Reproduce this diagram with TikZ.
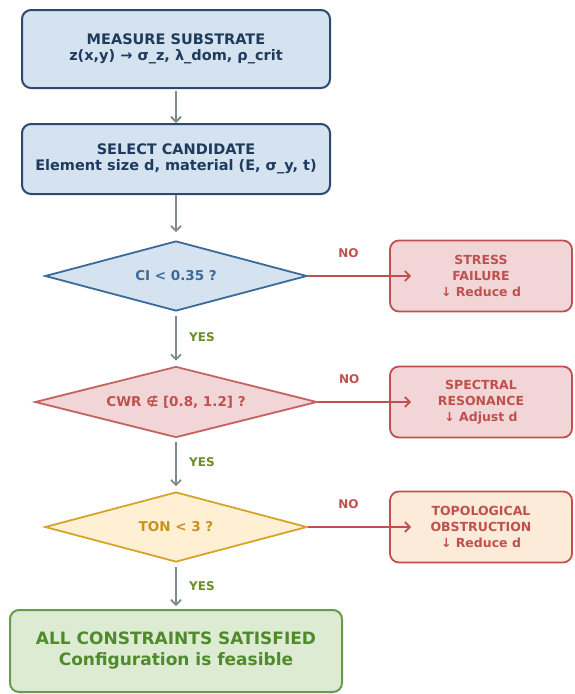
\documentclass[tikz,border=0pt]{standalone}
\usepackage{fontspec}
\setmainfont{DejaVu Sans}
\usetikzlibrary{positioning}
\usetikzlibrary{arrows.meta}
\usetikzlibrary{shapes.geometric}
\definecolor{navy}{HTML}{1F3B5C}
\definecolor{navyline}{HTML}{2C4A6E}
\definecolor{bluefill}{HTML}{D5E3F0}
\definecolor{blueline}{HTML}{3B6A9A}
\definecolor{flowgray}{HTML}{7F8C8D}
\definecolor{red}{HTML}{C0504D}
\definecolor{redfill}{HTML}{F2D6D7}
\definecolor{gold}{HTML}{D4A52A}
\definecolor{goldtext}{HTML}{C8921A}
\definecolor{goldfill}{HTML}{FFF0D4}
\definecolor{orangefill}{HTML}{FDEBD9}
\definecolor{green}{HTML}{4F8A2B}
\definecolor{yesgreen}{HTML}{6B8E23}
\definecolor{greenline}{HTML}{6A9A4A}
\definecolor{greenfill}{HTML}{DCEBD2}

\begin{document}
\begin{tikzpicture}[x=1pt, y=-1pt,
    box/.style={draw, rounded corners=9pt, line width=2pt, align=center,
        font=\bfseries\fontsize{14.5}{16.5}\selectfont, inner sep=0pt},
    outcome/.style={draw, rounded corners=9pt, line width=1.8pt, red, align=center,
        minimum width=182pt, minimum height=71pt, inner sep=0pt,
        font=\bfseries\fontsize{12.5}{16}\selectfont},
    decision/.style={diamond, aspect=4, draw, line width=1.8pt, inner sep=0pt,
        font=\bfseries\fontsize{13.5}{15}\selectfont},
    flow/.style={-{Straight Barb[length=5pt,width=10pt]}, line width=1.8pt, flowgray},
    nopath/.style={-{Straight Barb[length=5pt,width=10pt]}, line width=1.8pt, red,
        shorten >=-22pt},
    yeslabel/.style={font=\bfseries\fontsize{12}{13}\selectfont, yesgreen},
    nolabel/.style={font=\bfseries\fontsize{12}{13}\selectfont, red}]
    \useasboundingbox (0, 0) rectangle (574, 694);

    % main column
    \node[box, navyline, fill=bluefill, text=navy, minimum width=308pt, minimum height=78pt]
        (measure) at (176, 49) {MEASURE SUBSTRATE\\z(x,y) → σ\_z, λ\_dom, ρ\_crit};
    \node[box, navyline, fill=bluefill, text=navy, minimum width=308pt, minimum height=70pt]
        (select) at (176, 159) {SELECT CANDIDATE\\Element size d, material (E, σ\_y, t)};

    \node[decision, blueline, fill=bluefill, text=blueline, minimum width=262pt, minimum height=70pt]
        (ci) at (176, 276) {CI < 0.35 ?};
    \node[decision, red!90, fill=redfill, text=red, minimum width=282pt, minimum height=71pt]
        (cwr) at (176, 402) {CWR ∉ [0.8, 1.2] ?};
    \node[decision, gold, fill=goldfill, text=goldtext, minimum width=262pt, minimum height=70pt]
        (ton) at (176, 527) {TON < 3 ?};

    \node[box, greenline, fill=greenfill, text=green, minimum width=332pt, minimum height=82pt,
        font=\bfseries\fontsize{17}{21}\selectfont]
        (done) at (176, 651) {ALL CONSTRAINTS SATISFIED\\Configuration is feasible};

    % failure boxes
    \node[outcome, fill=redfill] (stress) at (481, 276) {STRESS\\FAILURE\\↓ Reduce d};
    \node[outcome, fill=redfill] (spectral) at (481, 402) {SPECTRAL\\RESONANCE\\↓ Adjust d};
    \node[outcome, fill=orangefill] (topo) at (481, 527) {TOPOLOGICAL\\OBSTRUCTION\\↓ Reduce d};

    % connectors
    \draw[flow, shorten <=2pt] (measure) -- (select);
    \draw[flow, shorten >=8pt] (select) -- (ci);
    \draw[flow, shorten <=4pt, shorten >=5pt] (ci) -- node[yeslabel, right=9pt, yshift=2pt] {YES} (cwr);
    \draw[flow, shorten <=4pt, shorten >=5pt] (cwr) -- node[yeslabel, right=9pt, yshift=3pt] {YES} (ton);
    \draw[flow, shorten <=4pt, shorten >=3pt] (ton) -- node[yeslabel, right=9pt] {YES} (done);

    \draw[nopath] (ci.east) -- node[nolabel, above=14pt, pos=0.5] {NO} (stress.west);
    \draw[nopath] (cwr.east) -- node[nolabel, above=14pt, pos=0.44] {NO} (spectral.west);
    \draw[nopath] (ton.east) -- node[nolabel, above=14pt, pos=0.5] {NO} (topo.west);
\end{tikzpicture}
\end{document}
